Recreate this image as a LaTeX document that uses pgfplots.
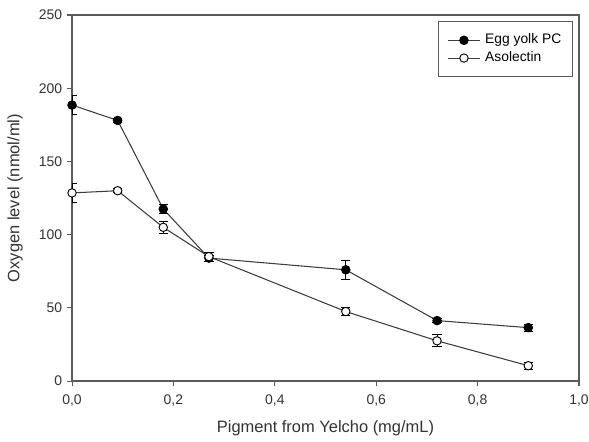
\documentclass[border=0pt]{standalone}
\usepackage{fontspec}
\setmainfont{Liberation Sans}
\usepackage{pgfplots}
\pgfplotsset{compat=1.18}

\definecolor{axgray}{RGB}{90,90,90}
\definecolor{lngray}{RGB}{60,60,60}

\begin{document}
\begin{tikzpicture}
\begin{axis}[
    scale only axis,
    width=385pt,
    height=278pt,
    xmin=0, xmax=1.0,
    ymin=0, ymax=250,
    xtick={0,0.2,0.4,0.6,0.8,1.0},
    ytick={0,50,100,150,200,250},
    xticklabel style={yshift=-2.5pt,
        /pgf/number format/use comma, /pgf/number format/fixed,
        /pgf/number format/fixed zerofill, /pgf/number format/precision=1},
    /pgf/number format/assume math mode=true,
    tick align=outside,
    tick pos=left,
    major tick length=4pt,
    axis line style={axgray, line width=0.9pt},
    every tick/.style={axgray, line width=0.8pt},
    tick label style={font=\fontsize{10.6}{12}\selectfont, text=black!80},
    label style={font=\fontsize{12.5}{14}\selectfont, text=black!80},
    xlabel={Pigment from Yelcho (mg/mL)},
    ylabel={Oxygen level (nmol/ml)},
    xlabel style={at={(axis description cs:0.5,0)}, anchor=center, yshift=-35.7pt},
    ylabel style={at={(axis description cs:-0.1124,0.5)}, anchor=center},
    legend style={at={(1,1)}, xshift=-4.6pt, yshift=-4.6pt, anchor=north east,
        draw=axgray, line width=0.7pt,
        font=\fontsize{10.5}{12}\selectfont, cells={anchor=west},
        nodes={inner sep=1.5pt, text height=7.5pt, text depth=2pt},
        inner xsep=7pt, inner ysep=8pt, row sep=1pt, column sep=2pt},
    legend image code/.code={
        \draw[mark repeat=2, mark phase=2] plot coordinates {(0cm,0cm) (0.43cm,0cm) (0.86cm,0cm)};
    },
]
\addplot[lngray, line width=0.8pt, mark=*, mark size=3.2pt,
    mark options={fill=black, draw=black},
    error bars/.cd, y dir=both, y explicit,
    error bar style={black, line width=0.7pt},
    error mark options={rotate=90, mark size=3.5pt, black, line width=0.7pt}]
  coordinates {
    (0.00, 188.5) +- (0, 6.5)
    (0.09, 178) +- (0, 1.5)
    (0.18, 117.5) +- (0, 3)
    (0.27, 84) +- (0, 2)
    (0.54, 76) +- (0, 6.5)
    (0.72, 41.3) +- (0, 1.5)
    (0.90, 36.5) +- (0, 2.5)
  };
\addlegendentry{Egg yolk PC}

\addplot[lngray, line width=0.8pt, mark=*, mark size=3.2pt,
    mark options={fill=white, draw=black, line width=0.7pt},
    error bars/.cd, y dir=both, y explicit,
    error bar style={black, line width=0.7pt},
    error mark options={rotate=90, mark size=3.5pt, black, line width=0.7pt}]
  coordinates {
    (0.00, 128.5) +- (0, 6.5)
    (0.09, 130) +- (0, 1.5)
    (0.18, 105) +- (0, 4)
    (0.27, 85) +- (0, 3)
    (0.54, 47.5) +- (0, 3)
    (0.72, 27.5) +- (0, 4)
    (0.90, 10.5) +- (0, 2.5)
  };
\addlegendentry{Asolectin}

\coordinate (bl) at (rel axis cs:0,0);
\coordinate (tr) at (rel axis cs:1,1);
\end{axis}
\pgfresetboundingbox
\path[use as bounding box] (bl) ++(-54.7pt,-45.6pt) rectangle ([shift={(7.6pt,11.4pt)}]tr);
\end{tikzpicture}
\end{document}
